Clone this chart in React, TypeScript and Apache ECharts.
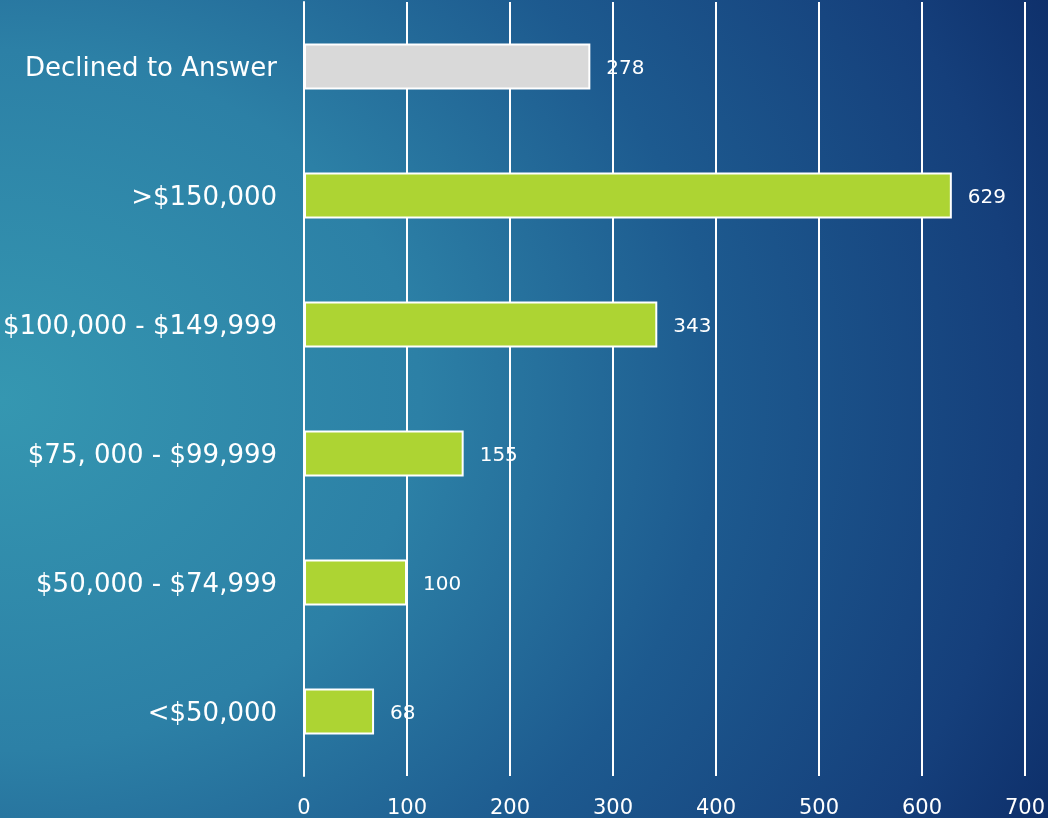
import React, { useEffect, useRef } from "react";
import * as echarts from "echarts";

const categories = [
  "<$50,000",
  "$50,000 - $74,999",
  "$75, 000 - $99,999",
  "$100,000 - $149,999",
  ">$150,000",
  "Declined to Answer",
];
const values = [68, 100, 155, 343, 629, 278];
const barColors = ["#add433", "#add433", "#add433", "#add433", "#add433", "#d9d9d9"];
const xTicks = { min: 0, max: 700, interval: 100 };

const FONT = "'DejaVu Sans', sans-serif";

export default function App() {
  const ref = useRef<HTMLDivElement>(null);
  useEffect(() => {
    if (!ref.current) return;
    const chart = echarts.init(ref.current, undefined, { renderer: "svg" });
    chart.setOption({
      animation: false,
      backgroundColor: "transparent",
      grid: { left: 304, right: 20, top: 2, bottom: 42, containLabel: false },
      xAxis: {
        type: "value",
        min: xTicks.min,
        max: xTicks.max,
        interval: xTicks.interval,
        axisLine: { show: false },
        axisTick: { show: false },
        splitLine: { show: true, lineStyle: { color: "#ffffff", width: 2 } },
        axisLabel: { color: "#ffffff", fontSize: 21, fontFamily: FONT, margin: 20 },
      },
      yAxis: {
        type: "category",
        data: categories,
        axisLine: { show: true, lineStyle: { color: "#ffffff", width: 2 } },
        axisTick: { show: false },
        axisLabel: { color: "#ffffff", fontSize: 26, fontFamily: FONT, margin: 27 },
      },
      series: [
        {
          type: "bar",
          barWidth: 46,
          data: values.map((v, i) => ({
            value: v,
            itemStyle: { color: barColors[i], borderColor: "#ffffff", borderWidth: 2 },
          })),
          label: {
            show: true,
            position: "right",
            distance: 16,
            color: "#ffffff",
            fontSize: 20,
            fontFamily: FONT,
          },
        },
      ],
    });
    return () => chart.dispose();
  }, []);
  return (
    <div
      ref={ref}
      style={{
        position: "fixed",
        left: 0,
        top: 0,
        width: 1048,
        height: 818,
        background:
          "radial-gradient(ellipse 1200px 1000px at 0px 400px, #3597b1 0%, #2c80a6 35%, #1d5a8f 60%, #153f7b 85%, #0c2b66 100%)",
      }}
    />
  );
}
